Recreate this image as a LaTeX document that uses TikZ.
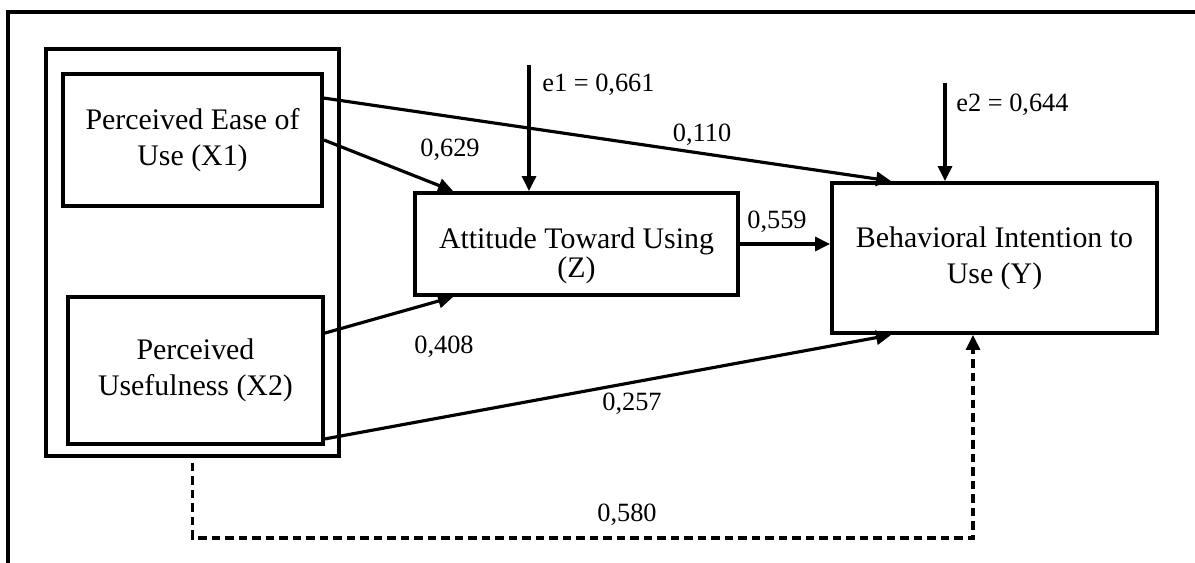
\documentclass[tikz,border=0pt]{standalone}
\usepackage{fontspec}
\setmainfont{Liberation Serif}
\usetikzlibrary{positioning,arrows.meta,calc}
\tikzset{
  box/.style={draw, line width=2.2pt, align=center, font=\fontsize{17}{20.5}\selectfont},
  lbl/.style={font=\fontsize{15}{18}\selectfont, inner sep=0pt},
  arr/.style={line width=1.8pt, -{Triangle[length=0.3cm,width=0.28cm]}},
}
\begin{document}
\begin{tikzpicture}[x=0.02cm, y=-0.02cm]
\useasboundingbox (0,0) rectangle (1195,563);
\draw[line width=1.8pt] (8,563) -- (8,12) -- (1195,12);
% boxes
\node[box, minimum width=5.86cm, minimum height=8.14cm] (grp) at (192.5,252.5) {};
\node[box, minimum width=5.18cm, minimum height=2.64cm] (x1) at (192.5,140)
{Perceived Ease of\\Use (X1)};
\node[box, minimum width=5.1cm, minimum height=2.94cm] (x2) at (195.5,370.5)
{Perceived\\Usefulness (X2)};
\node[box, minimum width=6.46cm, minimum height=2.04cm] (z) at (576.5,244)
{\rule{0pt}{0.9cm}Attitude Toward Using\\[-4pt](Z)};
\node[box, minimum width=6.5cm, minimum height=3cm] (y) at (994.5,258)
{Behavioral Intention to\\Use (Y)};
\coordinate (e1) at (529,65); \coordinate (e2) at (945,83);
\coordinate (dl) at (973,538);
% paths
\draw[arr] ([yshift=-0.52cm]x1.north east) -- ([xshift=1.22cm]y.north west);
\draw[arr] (x1.east) -- ([xshift=0.8cm]z.north west);
\draw[arr] ([yshift=-0.76cm]x2.north east) -- ([xshift=0.8cm]z.south west);
\draw[arr] ([yshift=0.14cm]x2.south east) -- ([xshift=1.22cm]y.south west);
\draw[arr] (z.east) -- (z.east -| y.west);
\draw[arr] (e1) -- (e1 |- z.north);
\draw[arr] (e2) -- (e2 |- y.north);
\draw[arr, dash pattern=on 0.17cm off 0.1cm] ([yshift=-0.1cm]grp.south) |- (dl) -- (dl |- y.south);
% labels
\node[lbl] (l629) at (450,150) {0,629};
\node[lbl] (l110) at (702,135) {0,110};
\node[lbl] (l408) at (444,347) {0,408};
\node[lbl] (l257) at (632,404) {0,257};
\node[lbl] (l559) at (777,222) {0,559};
\node[lbl] (l580) at (627,515) {0,580};
\node[lbl, anchor=west] (le1) at (542,85) {e1 = 0,661};
\node[lbl, anchor=west] (le2) at (956,105) {e2 = 0,644};
\end{tikzpicture}
\end{document}
